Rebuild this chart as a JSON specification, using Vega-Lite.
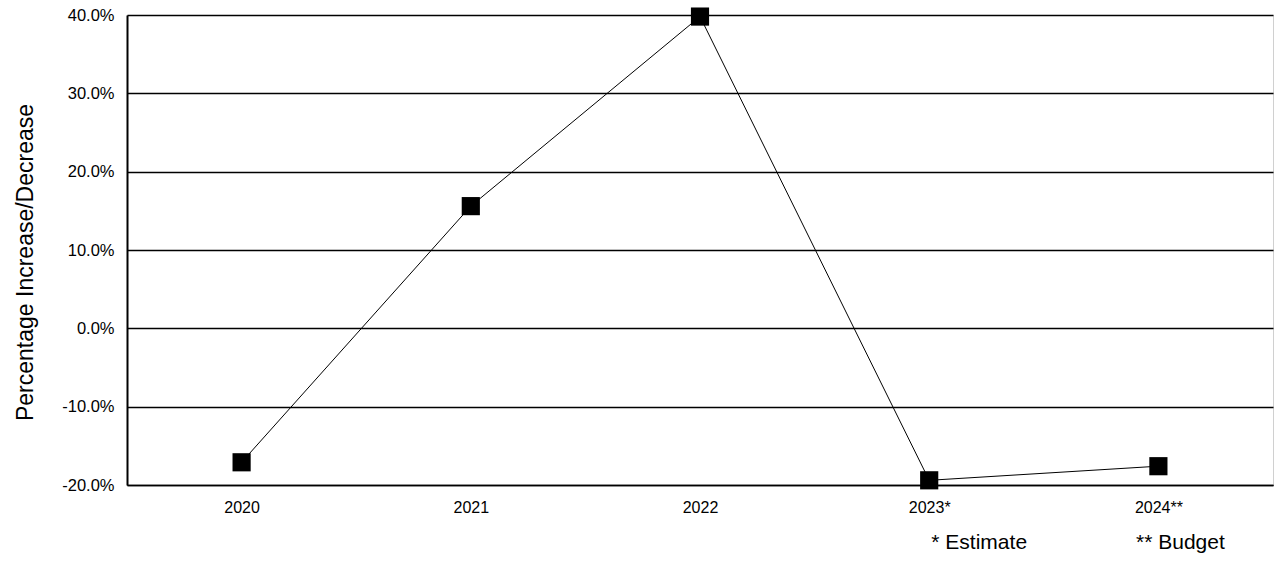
{
  "$schema": "https://vega.github.io/schema/vega-lite/v6.json",
  "width": 1146,
  "height": 470,
  "autosize": {"type": "none"},
  "padding": {"left": 127, "top": 15, "right": 1, "bottom": 76},
  "background": "white",
  "config": {
    "font": "Liberation Sans",
    "view": {"stroke": "#d0d0d0", "strokeWidth": 1}
  },
  "data": {
    "values": [
      {"year": "2020", "value": -0.171, "note": ""},
      {"year": "2021", "value": 0.156, "note": ""},
      {"year": "2022", "value": 0.398, "note": ""},
      {"year": "2023*", "value": -0.194, "note": "* Estimate"},
      {"year": "2024**", "value": -0.176, "note": "** Budget"}
    ]
  },
  "encoding": {
    "x": {
      "field": "year",
      "type": "ordinal",
      "sort": null,
      "scale": {"type": "point", "padding": 0.5},
      "axis": {
        "title": null,
        "labelAngle": 0,
        "ticks": false,
        "grid": false,
        "domainColor": "black",
        "domainWidth": 1.5,
        "labelFontSize": 16,
        "labelColor": "black",
        "labelPadding": 14
      }
    }
  },
  "layer": [
    {
      "mark": {"type": "line", "color": "black", "strokeWidth": 1},
      "encoding": {
        "y": {
          "field": "value",
          "type": "quantitative",
          "scale": {"domain": [-0.2, 0.4], "nice": false, "zero": false},
          "axis": {
            "title": "Percentage Increase/Decrease",
            "titleFontSize": 23,
            "titleFontWeight": "normal",
            "titleColor": "black",
            "titlePadding": 24,
            "titleY": 247,
            "values": [-0.2, -0.1, 0, 0.1, 0.2, 0.3, 0.4],
            "format": ".1%",
            "labelExpr": "replace(datum.label, '\u2212', '-')",
            "ticks": false,
            "labelFontSize": 16.5,
            "labelColor": "black",
            "labelPadding": 13,
            "grid": true,
            "gridColor": "black",
            "gridWidth": 1.5,
            "gridOpacity": 1,
            "domainColor": "black",
            "domainWidth": 2
          }
        }
      }
    },
    {
      "mark": {"type": "point", "shape": "square", "filled": true, "color": "black", "size": 330, "opacity": 1},
      "encoding": {
        "y": {"field": "value", "type": "quantitative"}
      }
    },
    {
      "transform": [{"filter": "datum.year == '2023*'"}],
      "mark": {"type": "text", "fontSize": 21, "color": "black", "align": "center", "baseline": "alphabetic", "dx": 50, "dy": 64},
      "encoding": {
        "y": {"datum": -0.2, "type": "quantitative"},
        "text": {"field": "note"}
      }
    },
    {
      "transform": [{"filter": "datum.year == '2024**'"}],
      "mark": {"type": "text", "fontSize": 21, "color": "black", "align": "center", "baseline": "alphabetic", "dx": 22, "dy": 64},
      "encoding": {
        "y": {"datum": -0.2, "type": "quantitative"},
        "text": {"field": "note"}
      }
    }
  ]
}
